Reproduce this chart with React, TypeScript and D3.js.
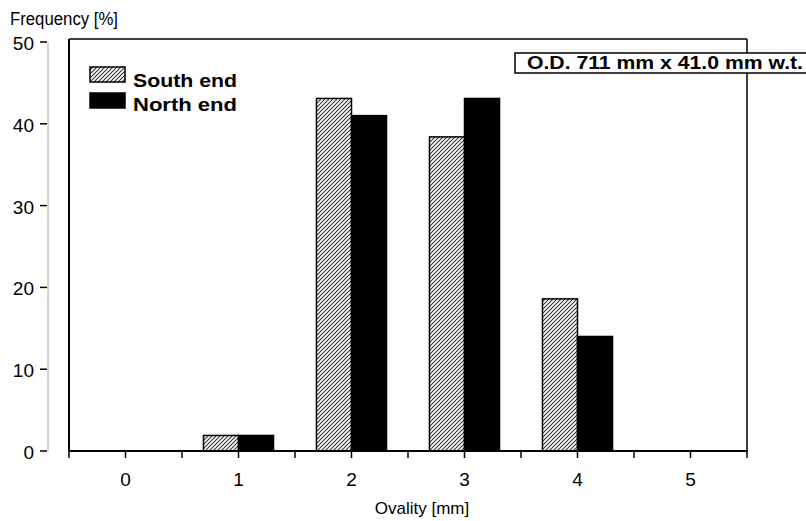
import React from "react";
import * as d3 from "d3";

const categories = [0, 1, 2, 3, 4, 5];
const southValues = [0, 1.9, 43.1, 38.4, 18.6, 0];
const northValues = [0, 1.9, 41.0, 43.1, 14.0, 0];
const yTicks = [0, 10, 20, 30, 40, 50];
const xMinorTicks = [-0.5, 0, 0.5, 1, 1.5, 2, 2.5, 3, 3.5, 4, 4.5, 5, 5.5];
const seriesNames = ["South end", "North end"];
const yTitle = "Frequency [%]";
const xTitle = "Ovality [mm]";
const note = "O.D. 711 mm x 41.0 mm w.t.";

const W = 806;
const H = 521;
const FONT = "'Liberation Sans', Arial, sans-serif";

export default function App() {
  const x = d3.scaleLinear().domain([-0.5, 5.5]).range([69, 747]);
  const y = d3.scaleLinear().domain([0, 50]).range([451, 42]);
  const bw = 0.31;

  return (
    <svg
      width={W}
      height={H}
      style={{ position: "absolute", left: 0, top: 0, background: "#fff" }}
      fontFamily={FONT}
    >
      <defs>
        <pattern id="hatch" patternUnits="userSpaceOnUse" width="4" height="4">
          <rect width="4" height="4" fill="#fff" />
          <path d="M-1,1 l2,-2 M0,4 l4,-4 M3,5 l2,-2" stroke="#333" strokeWidth="1.1" />
        </pattern>
      </defs>

      {/* y title */}
      <text x={10} y={25} fontSize={18} textLength={108} lengthAdjust="spacingAndGlyphs" fill="#000">{yTitle}</text>

      {/* y axis (separate) */}
      <line x1={48} x2={48} y1={y(50)} y2={y(0)} stroke="#aaa" strokeWidth={1} />
      {yTicks.map((t) => (
        <g key={t}>
          <line x1={40} x2={47} y1={y(t)} y2={y(t)} stroke="#000" strokeWidth={1.5} />
          <text x={34} y={y(t) + 8} textAnchor="end" fontSize={19} fill="#000">{t}</text>
        </g>
      ))}

      {/* bars */}
      {categories.map((c, i) => (
        <g key={c}>
          {southValues[i] > 0 && (
            <rect
              x={x(c - bw)}
              y={y(southValues[i])}
              width={x(c) - x(c - bw)}
              height={y(0) - y(southValues[i])}
              fill="url(#hatch)"
              stroke="#000"
              strokeWidth={1.5}
            />
          )}
          {northValues[i] > 0 && (
            <rect
              x={x(c)}
              y={y(northValues[i])}
              width={x(c + bw) - x(c)}
              height={y(0) - y(northValues[i])}
              fill="#000"
              stroke="#000"
              strokeWidth={1.5}
            />
          )}
        </g>
      ))}

      {/* frame */}
      <line x1={69} x2={747} y1={39} y2={39} stroke="#000" strokeWidth={1.5} />
      <line x1={747} x2={747} y1={39} y2={451} stroke="#000" strokeWidth={1.5} />
      <line x1={69} x2={69} y1={39} y2={451} stroke="#000" strokeWidth={2} />
      <line x1={69} x2={748} y1={451} y2={451} stroke="#000" strokeWidth={2} />

      {/* x ticks */}
      {xMinorTicks.map((t) => (
        <line key={t} x1={x(t)} x2={x(t)} y1={451} y2={458} stroke="#000" strokeWidth={1.5} />
      ))}
      {categories.map((c) => (
        <text key={c} x={x(c)} y={486} textAnchor="middle" fontSize={19} fill="#000">{c}</text>
      ))}
      <text x={422} y={514} textAnchor="middle" fontSize={17} fill="#000">{xTitle}</text>

      {/* legend */}
      <rect x={90} y={67} width={35} height={15} fill="url(#hatch)" stroke="#000" strokeWidth={1.5} />
      <rect x={90} y={93} width={35} height={15} fill="#000" stroke="#000" strokeWidth={1.5} />
      <text x={133} y={87} fontSize={17.5} fontWeight="bold" textLength={104} lengthAdjust="spacingAndGlyphs" fill="#000">{seriesNames[0]}</text>
      <text x={133} y={111} fontSize={17.5} fontWeight="bold" textLength={104} lengthAdjust="spacingAndGlyphs" fill="#000">{seriesNames[1]}</text>

      {/* annotation */}
      <rect x={515} y={53} width={300} height={20} fill="#fff" stroke="#000" strokeWidth={1.5} />
      <text x={527} y={69} fontSize={17.5} fontWeight="bold" textLength={276} lengthAdjust="spacingAndGlyphs" fill="#000">{note}</text>
    </svg>
  );
}
